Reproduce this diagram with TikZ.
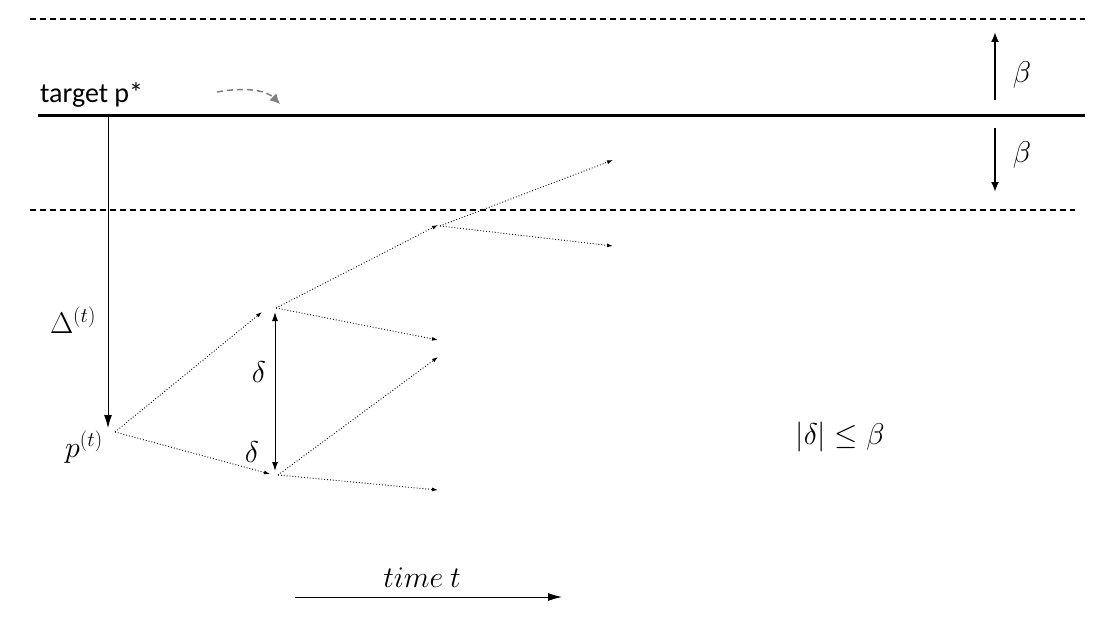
\RequirePackage{fix-cm}
\documentclass[tikz,border=0pt]{standalone}
\usepackage{fontspec}
\setmainfont{Carlito}
\usetikzlibrary{arrows.meta}
\begin{document}
\begin{tikzpicture}[x=1pt,y=-1pt,
  dl/.style={dotted,line width=0.9pt,-{Latex[length=6pt,width=4pt]}},
  lbl/.style={inner sep=0pt,font=\fontsize{28}{30}\selectfont},
  mth/.style={inner sep=0pt,font=\fontsize{30}{32}\selectfont}]
\useasboundingbox (0,0) rectangle (1108,618);
\draw[dash pattern=on 6pt off 4pt,line width=1.2pt] (30,19) -- (1085,19);
\draw[line width=3pt] (38,115) -- (1085,115);
\draw[dash pattern=on 6pt off 4pt,line width=1.2pt] (30,210) -- (1075,210);
\node[lbl,anchor=west] (tgt) at (40,95) {target p*};
\coordinate (g1) at (217,92);
\coordinate (g2) at (280,104);
\draw[gray,dash pattern=on 6pt off 4pt,line width=1.5pt,-{Latex[length=10pt,width=10pt]}] (g1) .. controls (250,86) and (268,92) .. (g2);
\coordinate (bu1) at (995,100); \coordinate (bu2) at (995,32);
\draw[line width=2pt,-{Latex[length=10pt,width=8pt]}] (bu1) -- (bu2);
\node[mth] (b1) at (1022,75) {$\beta$};
\coordinate (bd1) at (995,128); \coordinate (bd2) at (995,192);
\draw[line width=2pt,-{Latex[length=10pt,width=8pt]}] (bd1) -- (bd2);
\node[mth] (b2) at (1022,155) {$\beta$};
\coordinate (top) at (108,115); \coordinate (bot) at (108,428);
\draw[line width=1pt,-{Latex[length=13pt,width=8pt]}] (top) -- (bot);
\node[mth] (D) at (73,320) {$\Delta^{(t)}$};
\node[mth] (pt) at (84,447) {$p^{(t)}$};
\coordinate (P) at (115,432);
\coordinate (A) at (276,308); \coordinate (A0) at (262,312);
\coordinate (B) at (278,475); \coordinate (B0) at (270,474);
\coordinate (C) at (440,226); \coordinate (C0) at (438,225);
\coordinate (a1) at (438,340); \coordinate (b1p) at (438,357); \coordinate (b2p) at (438,490);
\coordinate (c1) at (613,160); \coordinate (c2) at (613,246);
\draw[dl] (P) -- (A0);
\draw[dl] (P) -- (B0);
\draw[dl] (A) -- (C0);
\draw[dl] (A) -- (a1);
\draw[dl] (B) -- (b1p);
\draw[dl] (B) -- (b2p);
\draw[dl] (C) -- (c1);
\draw[dl] (C) -- (c2);
\coordinate (d1) at (275,312); \coordinate (d2) at (275,471);
\draw[line width=1pt,{Latex[length=9pt,width=6pt]}-{Latex[length=9pt,width=6pt]}] (d1) -- (d2);
\node[mth] (dl1) at (259,372) {$\delta$};
\node[mth] (dl2) at (252,452) {$\delta$};
\node[mth] (ineq) at (840,437) {$|\delta|\leq\beta$};
\node[mth] (time) at (422,578) {$time\ t$};
\coordinate (t1) at (295,597); \coordinate (t2) at (562,597);
\draw[line width=1pt,-{Latex[length=14pt,width=8pt]}] (t1) -- (t2);
\end{tikzpicture}
\end{document}
